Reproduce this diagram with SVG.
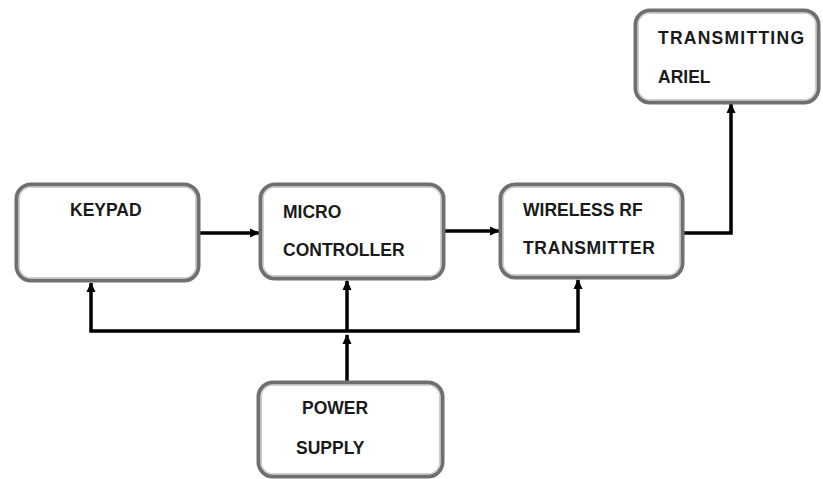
<svg xmlns="http://www.w3.org/2000/svg" width="823" height="479" viewBox="0 0 823 479">
<defs>
<marker id="ah" markerWidth="10" markerHeight="10" refX="9" refY="5" orient="auto" markerUnits="userSpaceOnUse" viewBox="0 0 10 10">
<path d="M0,0.5 L10,5 L0,9.5 Z" fill="#000"/>
</marker>
<style>
.box{fill:#fff;stroke:#6f6f6f;stroke-width:5}
.inner{fill:none;stroke:#d6d6d6;stroke-width:1.5}
.lbl{font-family:"Liberation Sans",Arial,sans-serif;font-weight:bold;font-size:17.5px;fill:#1a1a1a}
.wire{fill:none;stroke:#000;stroke-width:3.5}
</style>
</defs>
<rect width="823" height="479" fill="#fff"/>
<g id="connectors">
<line class="wire" x1="198" y1="233" x2="259" y2="233" marker-end="url(#ah)"/>
<line class="wire" x1="443" y1="231" x2="499" y2="231" marker-end="url(#ah)"/>
<polyline class="wire" points="682,233 731,233 731,104" marker-end="url(#ah)"/>
<line class="wire" x1="347" y1="382" x2="347" y2="335" marker-end="url(#ah)"/>
<line class="wire" x1="347" y1="331" x2="347" y2="281" marker-end="url(#ah)"/>
<polyline class="wire" points="347,331 91,331 91,283" marker-end="url(#ah)"/>
<polyline class="wire" points="347,331 578,331 578,280" marker-end="url(#ah)"/>
</g>
<g id="keypad">
<rect class="box" x="17" y="185" width="181" height="95" rx="14"/>
<rect class="inner" x="19" y="187" width="177" height="91" rx="12"/>
<text class="lbl" x="70" y="216">KEYPAD</text>
</g>
<g id="micro">
<rect class="box" x="261" y="185" width="182" height="93" rx="14"/>
<rect class="inner" x="263" y="187" width="178" height="89" rx="12"/>
<text class="lbl" x="283" y="218">MICRO</text>
<text class="lbl" x="283" y="256">CONTROLLER</text>
</g>
<g id="wireless">
<rect class="box" x="501" y="185" width="181" height="92" rx="14"/>
<rect class="inner" x="503" y="187" width="177" height="88" rx="12"/>
<text class="lbl" x="523" y="216">WIRELESS RF</text>
<text class="lbl" x="523" y="254" textLength="132">TRANSMITTER</text>
</g>
<g id="transmitting">
<rect class="box" x="636" y="11" width="182" height="91" rx="14"/>
<rect class="inner" x="638" y="13" width="178" height="87" rx="12"/>
<text class="lbl" x="658" y="44" textLength="146">TRANSMITTING</text>
<text class="lbl" x="658" y="83">ARIEL</text>
</g>
<g id="power">
<rect class="box" x="259" y="383" width="183" height="93" rx="14"/>
<rect class="inner" x="261" y="385" width="179" height="89" rx="12"/>
<text class="lbl" x="302" y="414">POWER</text>
<text class="lbl" x="296" y="454">SUPPLY</text>
</g>
</svg>
